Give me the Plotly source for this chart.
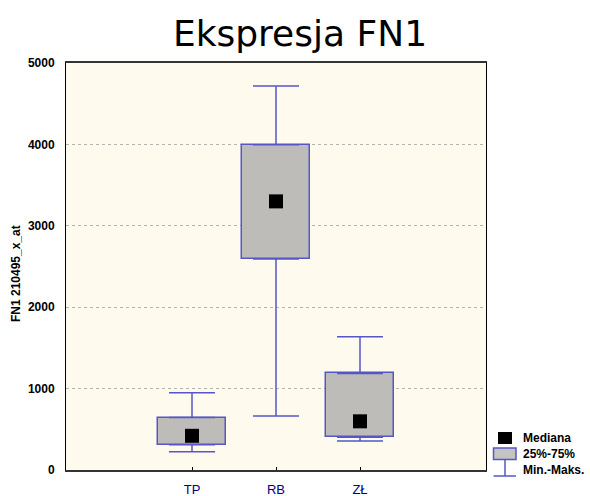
import plotly.graph_objects as go

categories = ["TP", "RB", "ZŁ"]
x_pos = [0, 1, 2]
minimum = [225, 663, 355]
q1 = [310, 2592, 403]
median = [420, 3300, 598]
q3 = [645, 3995, 1186]
maximum = [948, 4717, 1636]
y_ticks = [0, 1000, 2000, 3000, 4000, 5000]

BLUE = "#5656c8"

fig = go.Figure()

# 25%-75% boxes
fig.add_trace(go.Bar(
    x=x_pos, base=q1, y=[b - a for a, b in zip(q1, q3)], width=0.8,
    marker=dict(color="#eeede6", line=dict(color=BLUE, width=1.5),
                pattern=dict(shape=".", size=2, solidity=0.5, fgcolor="#7a7a7a", bgcolor="#f2f1ea", fillmode="replace")),
    showlegend=False, hoverinfo="skip"))

# upper whiskers
fig.add_trace(go.Scatter(
    x=x_pos, y=q3, mode="markers", marker=dict(size=1, color="rgba(0,0,0,0)"),
    error_y=dict(type="data", symmetric=False, array=[b - a for a, b in zip(q3, maximum)],
                 arrayminus=[0, 0, 0], width=23, thickness=1.5, color=BLUE),
    showlegend=False, hoverinfo="skip"))
# lower whiskers
fig.add_trace(go.Scatter(
    x=x_pos, y=q1, mode="markers", marker=dict(size=1, color="rgba(0,0,0,0)"),
    error_y=dict(type="data", symmetric=False, array=[0, 0, 0],
                 arrayminus=[a - b for a, b in zip(q1, minimum)], width=23, thickness=1.5, color=BLUE),
    showlegend=False, hoverinfo="skip"))
# medians
fig.add_trace(go.Scatter(
    x=x_pos, y=median, mode="markers",
    marker=dict(symbol="square", size=14, color="black", line=dict(width=0)),
    showlegend=False, hoverinfo="skip"))

# plot geometry (px) for manual legend
L, R, T, B = 66, 486, 63, 470
def px(xp):
    return (xp - L) / (R - L)
def py(yp):
    return (B - yp) / (B - T)

shapes = [
    dict(type="rect", xref="paper", yref="paper", x0=px(498), x1=px(512), y0=py(444), y1=py(432),
         fillcolor="black", line=dict(width=0)),
    dict(type="rect", xref="paper", yref="paper", x0=px(493.5), x1=px(516), y0=py(459.5), y1=py(448),
         fillcolor="#c4c4c0", line=dict(color=BLUE, width=1.5)),
    dict(type="line", xref="paper", yref="paper", x0=px(505), x1=px(505), y0=py(459.5), y1=py(476),
         line=dict(color=BLUE, width=1.5)),
    dict(type="line", xref="paper", yref="paper", x0=px(493.5), x1=px(516), y0=py(476), y1=py(476),
         line=dict(color=BLUE, width=1.5)),
]
leg_font = dict(family="Liberation Sans, Arial", size=12, color="black")
annotations = [
    dict(text="<b>Mediana</b>", x=px(521), y=py(438), xref="paper", yref="paper", xanchor="left", yanchor="middle", showarrow=False, font=leg_font),
    dict(text="<b>25%-75%</b>", x=px(521), y=py(454), xref="paper", yref="paper", xanchor="left", yanchor="middle", showarrow=False, font=leg_font),
    dict(text="<b>Min.-Maks.</b>", x=px(521), y=py(470), xref="paper", yref="paper", xanchor="left", yanchor="middle", showarrow=False, font=leg_font),
    dict(text="<b>FN1 210495_x_at</b>", x=px(16), y=py(274), xref="paper", yref="paper", xanchor="center", yanchor="middle",
         textangle=-90, showarrow=False, font=dict(family="Liberation Sans, Arial", size=12, color="black")),
]

fig.update_layout(
    width=590, height=496,
    margin=dict(l=L, r=590 - R, t=T, b=496 - B, autoexpand=False),
    paper_bgcolor="white", plot_bgcolor="#fffaee",
    title=dict(text="Ekspresja FN1", font=dict(family="DejaVu Sans", size=36, color="black"),
               x=px(300), xref="paper", xanchor="center", y=1 - 33 / 496, yref="container", yanchor="middle"),
    shapes=shapes, annotations=annotations,
    bargap=0,
)
fig.update_xaxes(
    range=[-1.5, 3.5], tickvals=x_pos, ticktext=categories, automargin=False,
    ticks="inside", ticklen=3, tickcolor="black", ticklabelstandoff=6,
    tickfont=dict(family="Liberation Sans, Arial", size=13, color="#000080"),
    showgrid=False, zeroline=False,
    showline=True, linecolor="#333333", linewidth=2, mirror=True,
)
fig.update_yaxes(
    range=[0, 5000], tickvals=y_ticks, ticktext=[f"<b>{v}</b>" for v in y_ticks],
    ticks="", ticklabelstandoff=8, automargin=False,
    tickfont=dict(family="Liberation Sans, Arial", size=12, color="black"),
    showgrid=True, gridcolor="#b4b4b4", griddash="dot", gridwidth=1,
    zeroline=False, showline=True, linecolor="black", linewidth=1, mirror=True,
)

fig.write_html("out.html")
